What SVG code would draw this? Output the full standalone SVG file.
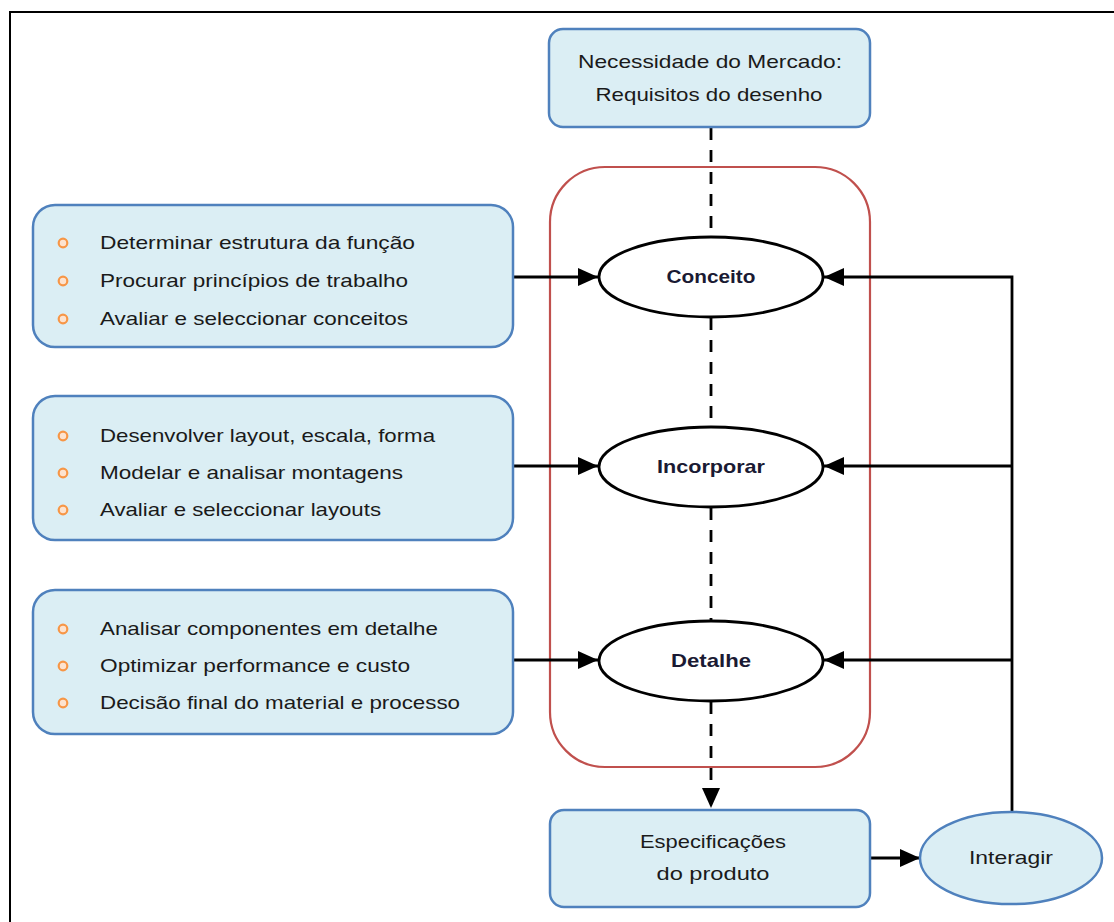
<svg xmlns="http://www.w3.org/2000/svg" width="1114" height="922" viewBox="0 0 1114 922">
  <defs>
    <marker id="arrow" viewBox="0 0 10 10" refX="10" refY="5" markerWidth="20" markerHeight="20" markerUnits="userSpaceOnUse" orient="auto">
      <path d="M0,0.5 L10,5 L0,9.5 Z" fill="#000"/>
    </marker>
    <style>
      .box { fill: #dbeef4; stroke: #4f81bd; stroke-width: 2.5; }
      .stage { fill: #fff; stroke: #000; stroke-width: 2.8; }
      .frame { fill: none; stroke: #000; stroke-width: 2; }
      .phase { fill: none; stroke: #c0504d; stroke-width: 2.2; }
      .t { font-family: "Liberation Sans", Arial, sans-serif; font-size: 19px; fill: #1a1a1a; }
      .c { text-anchor: middle; }
      .b { font-weight: bold; fill: #1a1a33; }
      .bullet { fill: #fde3cf; stroke: #f79646; stroke-width: 2.2; }
      .solid { fill: none; stroke: #000; stroke-width: 2.8; }
      .dash { fill: none; stroke: #000; stroke-width: 2.8; stroke-dasharray: 12 10; }
    </style>
  </defs>

  <rect width="1114" height="922" fill="#fff"/>
  <!-- page frame -->
  <path class="frame" d="M10,930 V12 H1120"/>

  <!-- design phase envelope -->
  <rect class="phase" x="550" y="167" width="320" height="600" rx="55"/>

  <!-- connectors -->
  <g id="connectors">
    <line class="dash" x1="711" y1="128" x2="711" y2="236"/>
    <line class="dash" x1="711" y1="318" x2="711" y2="426"/>
    <line class="dash" x1="711" y1="508" x2="711" y2="620"/>
    <line class="dash" x1="711" y1="702" x2="711" y2="808" marker-end="url(#arrow)"/>
    <line class="solid" x1="514" y1="277" x2="598" y2="277" marker-end="url(#arrow)"/>
    <line class="solid" x1="514" y1="466" x2="598" y2="466" marker-end="url(#arrow)"/>
    <line class="solid" x1="514" y1="660" x2="598" y2="660" marker-end="url(#arrow)"/>
    <path class="solid" d="M1012,812 V277 H824" marker-end="url(#arrow)"/>
    <line class="solid" x1="1012" y1="466" x2="824" y2="466" marker-end="url(#arrow)"/>
    <line class="solid" x1="1012" y1="660" x2="824" y2="660" marker-end="url(#arrow)"/>
    <line class="solid" x1="871" y1="858" x2="920" y2="858" marker-end="url(#arrow)"/>
  </g>

  <g id="necessidade">
    <rect class="box" x="549" y="29" width="321" height="98" rx="14"/>
    <text class="t c" x="710" y="68" textLength="264" lengthAdjust="spacingAndGlyphs">Necessidade do Mercado:</text>
    <text class="t c" x="709" y="101" textLength="227" lengthAdjust="spacingAndGlyphs">Requisitos do desenho</text>
  </g>

  <g id="tarefas-conceito">
    <rect class="box" x="33" y="205" width="480" height="142" rx="22"/>
    <circle class="bullet" cx="63" cy="243" r="4.3"/>
    <circle class="bullet" cx="63" cy="281" r="4.3"/>
    <circle class="bullet" cx="63" cy="319" r="4.3"/>
    <text class="t" x="100" y="249" textLength="315" lengthAdjust="spacingAndGlyphs">Determinar estrutura da função</text>
    <text class="t" x="100" y="287" textLength="308" lengthAdjust="spacingAndGlyphs">Procurar princípios de trabalho</text>
    <text class="t" x="100" y="325" textLength="308" lengthAdjust="spacingAndGlyphs">Avaliar e seleccionar conceitos</text>
  </g>

  <g id="tarefas-incorporar">
    <rect class="box" x="33" y="396" width="480" height="144" rx="22"/>
    <circle class="bullet" cx="63" cy="436" r="4.3"/>
    <circle class="bullet" cx="63" cy="473" r="4.3"/>
    <circle class="bullet" cx="63" cy="510" r="4.3"/>
    <text class="t" x="100" y="442" textLength="335" lengthAdjust="spacingAndGlyphs">Desenvolver layout, escala, forma</text>
    <text class="t" x="100" y="479" textLength="303" lengthAdjust="spacingAndGlyphs">Modelar e analisar montagens</text>
    <text class="t" x="100" y="516" textLength="281" lengthAdjust="spacingAndGlyphs">Avaliar e seleccionar layouts</text>
  </g>

  <g id="tarefas-detalhe">
    <rect class="box" x="33" y="590" width="480" height="144" rx="22"/>
    <circle class="bullet" cx="63" cy="629" r="4.3"/>
    <circle class="bullet" cx="63" cy="666" r="4.3"/>
    <circle class="bullet" cx="63" cy="703" r="4.3"/>
    <text class="t" x="100" y="635" textLength="338" lengthAdjust="spacingAndGlyphs">Analisar componentes em detalhe</text>
    <text class="t" x="100" y="672" textLength="310" lengthAdjust="spacingAndGlyphs">Optimizar performance e custo</text>
    <text class="t" x="100" y="709" textLength="360" lengthAdjust="spacingAndGlyphs">Decisão final do material e processo</text>
  </g>

  <g id="conceito">
    <ellipse class="stage" cx="711" cy="277" rx="112" ry="40"/>
    <text class="t c b" x="711" y="283" textLength="89" lengthAdjust="spacingAndGlyphs">Conceito</text>
  </g>

  <g id="incorporar">
    <ellipse class="stage" cx="711" cy="467" rx="112" ry="40"/>
    <text class="t c b" x="711" y="473" textLength="108" lengthAdjust="spacingAndGlyphs">Incorporar</text>
  </g>

  <g id="detalhe">
    <ellipse class="stage" cx="711" cy="661" rx="112" ry="40"/>
    <text class="t c b" x="711" y="667" textLength="80" lengthAdjust="spacingAndGlyphs">Detalhe</text>
  </g>

  <g id="especificacoes">
    <rect class="box" x="550" y="810" width="320" height="97" rx="14"/>
    <text class="t c" x="713" y="848" textLength="146" lengthAdjust="spacingAndGlyphs">Especificações</text>
    <text class="t c" x="713" y="880" textLength="113" lengthAdjust="spacingAndGlyphs">do produto</text>
  </g>

  <g id="interagir">
    <ellipse class="box" cx="1011" cy="858" rx="91" ry="46"/>
    <text class="t c" x="1011" y="864" textLength="84" lengthAdjust="spacingAndGlyphs">Interagir</text>
  </g>
</svg>
